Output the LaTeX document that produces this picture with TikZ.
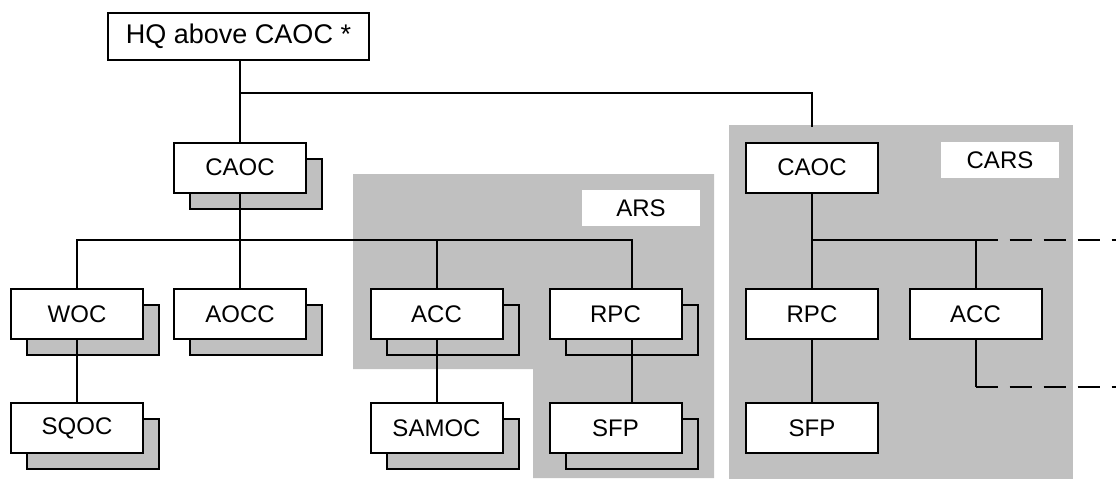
\documentclass[tikz,border=0pt]{standalone}
\usepackage{fontspec}
\setmainfont{Liberation Sans}
\usepackage{tikz}
\usetikzlibrary{shadows,calc}
\definecolor{shadegray}{RGB}{192,192,192}

\begin{document}
\begin{tikzpicture}[x=0.5pt,y=-0.5pt,
    unit/.style={draw,fill=white,line width=1pt,minimum width=66pt,minimum height=25pt,inner sep=0pt,font=\fontsize{12}{14}\selectfont},
    stacked/.style={unit,copy shadow={shadow xshift=8pt,shadow yshift=-8pt,fill=shadegray,draw=black,line width=1pt}},
    tag/.style={fill=white,minimum width=59pt,minimum height=18pt,inner sep=0pt,font=\fontsize{12}{14}\selectfont},
    conn/.style={line width=1pt},
    dashline/.style={line width=1pt,dash pattern=on 11pt off 6pt}]
    \useasboundingbox (0,0) rectangle (1116,479);

    % shaded groups
    \fill[shadegray] (353,174) -- (714,174) -- (714,478) -- (533,478) -- (533,369) -- (353,369) -- cycle;
    \fill[shadegray] (729,125) rectangle (1073,479);
    \node[tag] (lblARS) at (641,208) {ARS};
    \node[tag] (lblCARS) at (1000,160) {CARS};

    % units
    \node[unit,minimum width=130.5pt,minimum height=23.5pt,font=\fontsize{13.5}{16}\selectfont] (hq) at (238.5,36.5) {HQ above CAOC *};
    \node[stacked] (caoc) at (240,167.5) {CAOC};
    \node[stacked] (woc) at (77,314) {WOC};
    \node[stacked] (aocc) at (240,314) {AOCC};
    \node[stacked] (acc) at (436.5,314) {ACC};
    \node[stacked] (rpc) at (615.5,314) {RPC};
    \node[stacked] (sqoc) at (77,428) {SQOC};
    \node[stacked] (samoc) at (436.5,428) {SAMOC};
    \node[stacked] (sfp) at (615.5,428) {SFP};

    \node[unit] (caocR) at (812,167.5) {CAOC};
    \node[unit] (rpcR) at (812,314) {RPC};
    \node[unit] (accR) at (975.5,314) {ACC};
    \node[unit] (sfpR) at (812,428) {SFP};

    % connectors
    \coordinate (hqBus) at (240,93);
    \coordinate (carsIn) at (812,127);
    \coordinate (busA) at (240,240);
    \coordinate (busR) at (812,240);
    \coordinate (accTail) at (975.5,387);
    \coordinate (outA) at (1116,240);
    \coordinate (outB) at (1116,387);

    \draw[conn] (hq.south -| caoc.north) -- (caoc.north);
    \draw[conn] (hqBus) -| (carsIn);
    \draw[conn] (caoc) -- (busA);
    \draw[conn] (woc.north) |- (busA) -| ($(rpc.north)+(16,0)$);
    \draw[conn] (aocc) -- (busA);
    \draw[conn] (acc.north) -- (acc.north |- busA);
    \draw[conn] (woc) -- (sqoc);
    \draw[conn] (acc) -- (samoc);
    \draw[conn] ($(rpc.south)+(16,0)$) -- ($(sfp.north)+(16,0)$);

    \draw[conn] (caocR) -- (rpcR);
    \draw[conn] (rpcR) -- (sfpR);
    \draw[conn] (busR) -| (accR.north);
    \draw[dashline] (busR -| accR.north) -- (outA);
    \draw[conn] (accR) -- (accTail);
    \draw[dashline] (accTail) -- (outB);
\end{tikzpicture}
\end{document}
